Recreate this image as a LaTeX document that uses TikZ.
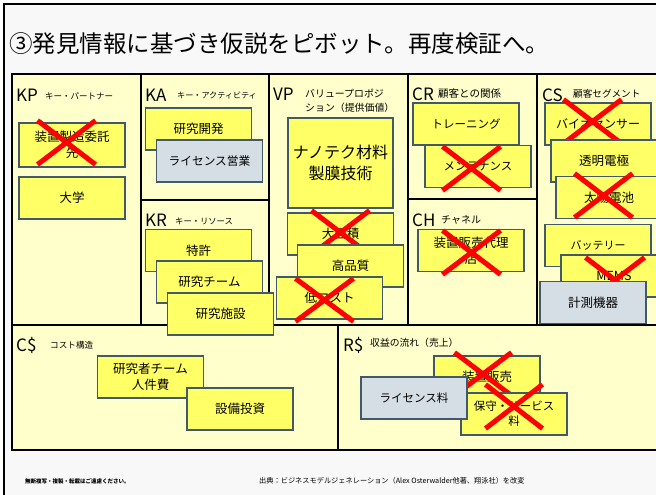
\documentclass[tikz,border=0pt]{standalone}
\usepackage{fontspec}
\setmainfont{Noto Sans CJK JP}
\usetikzlibrary{shapes.misc}
\definecolor{canvasY}{HTML}{FFFFCC}
\definecolor{stickyY}{HTML}{FFFF66}
\definecolor{stickyB}{HTML}{41596B}
\definecolor{grayF}{HTML}{D5DEE5}
\definecolor{xred}{HTML}{FF0000}
\definecolor{slideBG}{HTML}{F8F8F8}
\newcommand\fsz[2]{\fontsize{#1}{#2}\selectfont}
\begin{document}
\begin{tikzpicture}[x=1pt,y=-1pt,
  panel/.style={draw=black, line width=2pt, fill=canvasY},
  sticky/.style={draw=stickyB, line width=1.4pt, fill=stickyY, minimum width=106, minimum height=42, inner sep=1pt, align=center, font=\fsz{12.5}{16}},
  grayS/.style={sticky, fill=grayF},
  xmark/.style={cross out, draw=xred, line width=5pt, minimum width=53, minimum height=39, inner sep=0pt},
  lab/.style={anchor=base west, inner sep=0pt, font=\fsz{17}{17}},
  sublab/.style={anchor=west, inner sep=0pt, align=left}]
\useasboundingbox (0,0) rectangle (656,495);
\clip (0,0) rectangle (656,495);
\fill[white] (0,0) rectangle (656,495);
\draw[line width=1.5pt, fill=slideBG] (4,4) rectangle (720,560);
\node[anchor=west, inner sep=0pt, font=\fsz{23.5}{28}] (title) at (9,44) {③発見情報に基づき仮説をピボット。再度検証へ。};
% panels
\draw[panel] (12,74) rectangle (141,325);
\draw[panel] (141,74) rectangle (269,200);
\draw[panel] (141,200) rectangle (269,325);
\draw[panel] (269,74) rectangle (408,325);
\draw[panel] (408,74) rectangle (537,199);
\draw[panel] (408,199) rectangle (537,325);
\draw[panel] (537,74) rectangle (700,325);
\draw[panel] (12,325) rectangle (338,450);
\draw[panel] (338,325) rectangle (700,450);
% labels
\node[lab] (kpL) at (16,102) {KP};
\node[sublab, font=\fsz{8.5}{10}] (kpS) at (45,96) {キー・パートナー};
\node[lab] (kaL) at (145,102) {KA};
\node[sublab, font=\fsz{8.1}{10}] (kaS) at (177,95) {キー・アクティビティ};
\node[lab] (krL) at (145,226) {KR};
\node[sublab, font=\fsz{8.3}{10}] (krS) at (175,221) {キー・リソース};
\node[lab] (vpL) at (273,100) {VP};
\node[sublab, font=\fsz{9.9}{14}] (vpS) at (305,101) {バリュープロポジ\\ション（提供価値）};
\node[lab] (crL) at (412,100) {CR};
\node[sublab, font=\fsz{10.5}{12}] (crS) at (438,94) {顧客との関係};
\node[lab] (chL) at (412,226) {CH};
\node[sublab, font=\fsz{10}{12}] (chS) at (441,220) {チャネル};
\node[lab] (csL) at (542,101) {CS};
\node[sublab, font=\fsz{9.6}{12}] (csS) at (573,94) {顧客セグメント};
\node[lab] (cdL) at (16,351) {C\$};
\node[sublab, font=\fsz{8.6}{10}] (cdS) at (50,345) {コスト構造};
\node[lab] (rdL) at (343,351) {R\$};
\node[sublab, font=\fsz{9.8}{12}] (rdS) at (370,343) {収益の流れ（売上）};
% KP
\node[sticky, minimum height=44] (kp1) at (72,145) {装置製造委託\\先};
\node[xmark] (kp1x) at (66.5,142.5) {};
\node[sticky] (kp2) at (72,198) {大学};
% KA
\node[sticky] (ka1) at (198.5,129) {研究開発};
\node[grayS, font=\fsz{11.7}{14}] (ka2) at (209.5,161) {ライセンス営業};
% KR
\node[sticky] (kr1) at (198.5,250.5) {特許};
\node[sticky] (kr2) at (209.5,282) {研究チーム};
\node[sticky] (kr3) at (220.5,314) {研究施設};
% VP
\node[sticky, minimum width=105, minimum height=90, font=\fsz{16}{21}] (vp1) at (340.5,163) {ナノテク材料\\製膜技術};
\node[sticky] (vp2) at (340.5,234) {大面積};
\node[xmark] (vp2x) at (340.5,232.5) {};
\node[sticky] (vp3) at (350.5,266) {高品質};
\node[sticky] (vp4) at (329.5,298) {低コスト};
\node[xmark, minimum height=38] (vp4x) at (324.5,300) {};
% CR
\node[sticky, font=\fsz{11.5}{14}] (cr1) at (466,124) {トレーニング};
\node[sticky, font=\fsz{11.5}{14}] (cr2) at (478,166.5) {メンテナンス};
\node[xmark] (cr2x) at (471.5,168.5) {};
% CH
\node[sticky] (ch1) at (471,250.5) {装置販売代理\\店};
\node[xmark] (ch1x) at (471.5,252.5) {};
% CS
\node[sticky, font=\fsz{12}{14}] (cs1) at (598,124) {バイオセンサー};
\node[xmark] (cs1x) at (592.5,121.5) {};
\node[sticky] (cs2) at (604,161) {透明電極};
\node[sticky] (cs3) at (609,197.5) {太陽電池};
\node[xmark] (cs3x) at (603.5,195.5) {};
\node[sticky, font=\fsz{11}{14}] (cs4) at (598,245.5) {バッテリー};
\node[sticky] (cs5) at (614,276) {MEMS};
\node[xmark, minimum width=54, minimum height=40] (cs5x) at (615,280) {};
\node[grayS] (cs6) at (593,302.5) {計測機器};
% C$
\node[sticky] (cd1) at (150.5,377) {研究者チーム\\人件費};
\node[sticky] (cd2) at (240,409) {設備投資};
% R$
\node[sticky] (rd1) at (487,377) {装置販売};
\node[xmark, minimum width=52, minimum height=38] (rd1x) at (483,374) {};
\node[sticky, font=\fsz{11.5}{15}] (rd3) at (514,414) {保守・サービス\\料};
\node[xmark, minimum width=52] (rd3x) at (514,406.5) {};
\node[grayS, font=\fsz{11.5}{14}] (rd2) at (414,398) {ライセンス料};
% footer
\node[anchor=west, inner sep=0pt, font=\fsz{5.5}{6}\bfseries] (note) at (25,481) {無断複写・複製・転載はご遠慮ください。};
\node[anchor=west, inner sep=0pt, font=\fsz{7.2}{8}] (src) at (259,481) {出典：ビジネスモデルジェネレーション（Alex Osterwalder他著、翔泳社）を改変};
\end{tikzpicture}
\end{document}
